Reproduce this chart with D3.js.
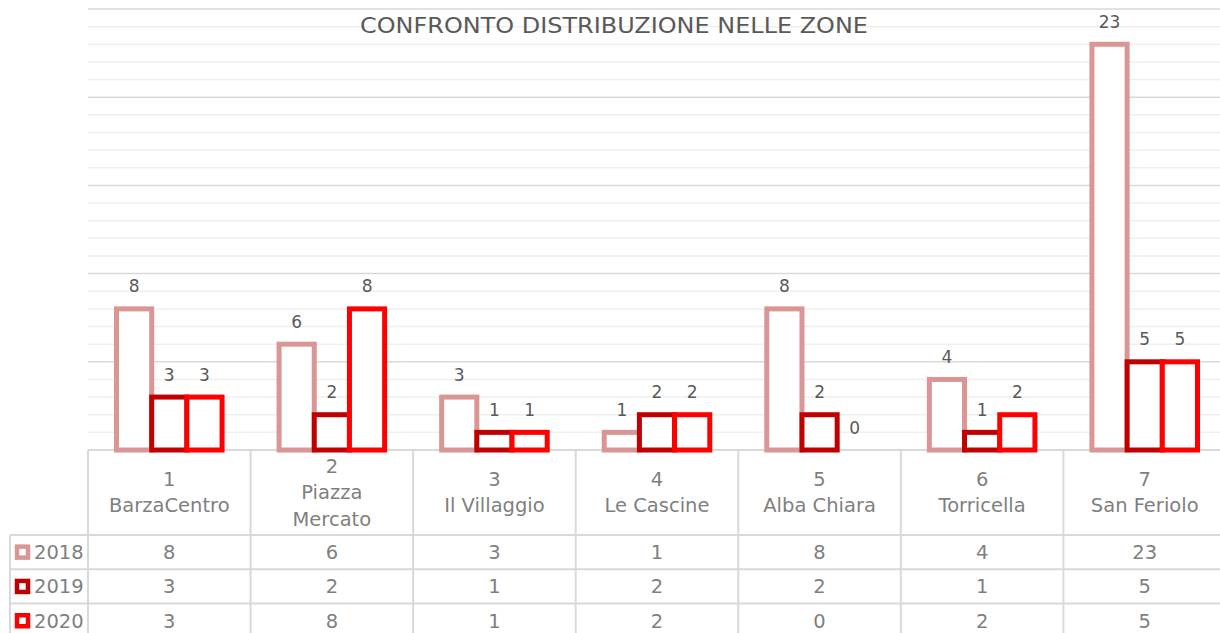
<!DOCTYPE html>
<html>
<head>
<meta charset="utf-8">
<script src="https://cdn.jsdelivr.net/npm/d3@7"></script>
<style>
  html, body { margin: 0; padding: 0; background: #ffffff; }
  svg { display: block; }
  text { font-family: "DejaVu Sans", "Noto Sans", sans-serif; }
</style>
</head>
<body>
<svg id="chart" width="1220" height="633"></svg>
<script>
// ---- data ----
const zoneNumbers = ["1", "2", "3", "4", "5", "6", "7"];
const zoneNames = [["BarzaCentro"], ["Piazza", "Mercato"], ["Il Villaggio"], ["Le Cascine"], ["Alba Chiara"], ["Torricella"], ["San Feriolo"]];
const years = ["2018", "2019", "2020"];
const values2018 = [8, 6, 3, 1, 8, 4, 23];
const values2019 = [3, 2, 1, 2, 2, 1, 5];
const values2020 = [3, 8, 1, 2, 0, 2, 5];
const seriesValues = [values2018, values2019, values2020];
const seriesColors = ["#DA9694", "#C00000", "#FF0000"];
const yTicks = d3.range(1, 26);
const title = "CONFRONTO DISTRIBUZIONE NELLE ZONE";

// ---- layout ----
const svg = d3.select("#chart");
const plotLeft = 88, plotRight = 1226;
const baseY = 450, topY = 9;
const headerBottom = 535, rowH = 34.3;
const tableLeft = 10;
const gridColorMinor = "#efefef", gridColorMajor = "#d9d9d9", tableLine = "#d9d9d9";

const x0 = d3.scaleBand().domain(zoneNumbers).range([plotLeft, plotRight]).paddingInner(0).paddingOuter(0);
const x1 = d3.scaleBand().domain(years).range([0, x0.bandwidth()]).paddingInner(0).paddingOuter(0.81);
const y = d3.scaleLinear().domain([0, 25]).range([baseY, topY]);

// gridlines
svg.append("g").selectAll("line").data(yTicks).join("line")
  .attr("x1", plotLeft).attr("x2", plotRight)
  .attr("y1", d => y(d)).attr("y2", d => y(d))
  .attr("stroke", d => d % 5 === 0 ? gridColorMajor : gridColorMinor)
  .attr("stroke-width", 1.5);

// title
svg.append("text")
  .attr("x", 614).attr("y", 33)
  .attr("text-anchor", "middle")
  .attr("font-size", 22)
  .attr("fill", "#595959")
  .attr("textLength", 508).attr("lengthAdjust", "spacingAndGlyphs")
  .text(title);

// table lines
const tbl = svg.append("g").attr("stroke", tableLine).attr("stroke-width", 2);
tbl.append("line").attr("x1", plotLeft).attr("x2", plotRight).attr("y1", baseY).attr("y2", baseY);
for (let i = 0; i <= 3; i++) {
  const yy = headerBottom + i * rowH;
  tbl.append("line").attr("x1", tableLeft).attr("x2", plotRight).attr("y1", yy).attr("y2", yy);
}
tbl.append("line").attr("x1", tableLeft).attr("x2", tableLeft).attr("y1", headerBottom).attr("y2", 640);
zoneNumbers.forEach(z => {
  tbl.append("line").attr("x1", x0(z)).attr("x2", x0(z)).attr("y1", baseY).attr("y2", 640);
});
tbl.append("line").attr("x1", plotRight).attr("x2", plotRight).attr("y1", baseY).attr("y2", 640);

// bars
years.forEach((yr, si) => {
  const g = svg.append("g");
  g.selectAll("rect").data(seriesValues[si]).join("rect")
    .attr("x", (d, i) => x0(zoneNumbers[i]) + x1(yr))
    .attr("y", d => y(d))
    .attr("width", x1.bandwidth())
    .attr("height", d => y(0) - y(d))
    .attr("fill", "#ffffff")
    .attr("stroke", seriesColors[si])
    .attr("stroke-width", 5);
});

// data labels
years.forEach((yr, si) => {
  svg.append("g").selectAll("text").data(seriesValues[si]).join("text")
    .attr("x", (d, i) => x0(zoneNumbers[i]) + x1(yr) + x1.bandwidth() / 2)
    .attr("y", d => y(d) - 16.5)
    .attr("text-anchor", "middle")
    .attr("font-size", 17)
    .attr("fill", "#595959")
    .text(d => d);
});

// category header labels
const headerMid = (baseY + headerBottom) / 2 + 1;
const lineH = 26.5;
zoneNumbers.forEach((z, i) => {
  const lines = [z].concat(zoneNames[i]);
  const t = svg.append("text")
    .attr("text-anchor", "middle")
    .attr("font-size", 19.5)
    .attr("fill", "#7f7f7f");
  const startY = headerMid - (lines.length - 1) * lineH / 2 + 5.5;
  lines.forEach((ln, k) => {
    t.append("tspan").attr("x", x0(z) + x0.bandwidth() / 2).attr("y", startY + k * lineH).text(ln);
  });
});

// table rows: legend + values
years.forEach((yr, si) => {
  const cy = headerBottom + si * rowH + rowH / 2;
  svg.append("rect")
    .attr("x", 17).attr("y", cy - 5.5).attr("width", 11).attr("height", 11)
    .attr("fill", "#ffffff").attr("stroke", seriesColors[si]).attr("stroke-width", 4.5);
  svg.append("text")
    .attr("x", 34).attr("y", cy + 7)
    .attr("font-size", 19.5).attr("fill", "#7f7f7f")
    .text(yr);
  svg.append("g").selectAll("text").data(seriesValues[si]).join("text")
    .attr("x", (d, i) => x0(zoneNumbers[i]) + x0.bandwidth() / 2)
    .attr("y", cy + 7)
    .attr("text-anchor", "middle")
    .attr("font-size", 19.5)
    .attr("fill", "#7f7f7f")
    .text(d => d);
});
</script>
</body>
</html>
